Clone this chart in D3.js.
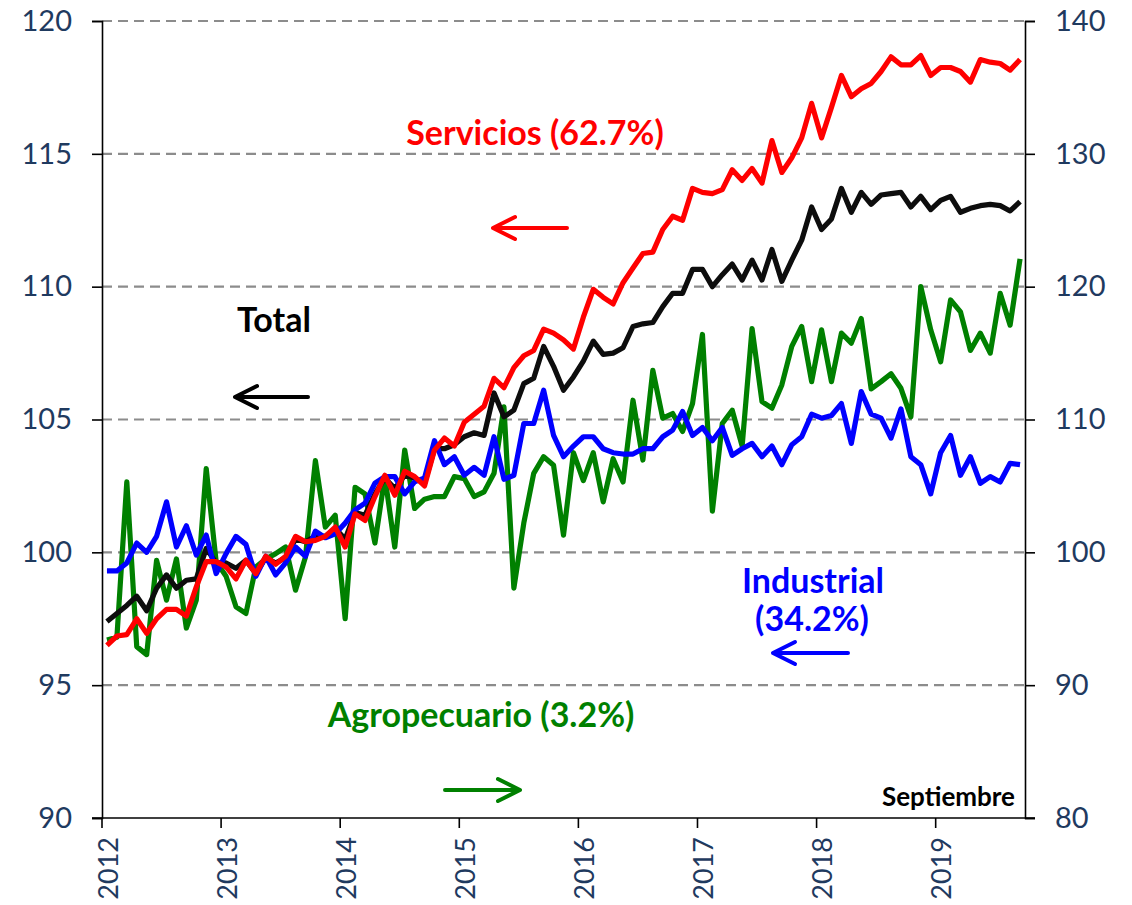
<!DOCTYPE html>
<html lang="es">
<head>
    <meta charset="UTF-8">
    <title>Índices por sector</title>
    <script src="https://d3js.org/d3.v7.min.js"></script>
    <style>
        body { margin: 0; background: #fff; }
        svg { display: block; font-family: Lato, "Open Sans", sans-serif; }
        .tick-label { font-size: 29px; fill: #1f3a5f; }
        .note { font-weight: bold; font-size: 34px; }
    </style>
</head>
<body>
    <svg id="chart"></svg>
    <script>
        // monthly categories Jan 2012 .. Sep 2019
        const years = [2012, 2013, 2014, 2015, 2016, 2017, 2018, 2019];
        const months = d3.timeMonth.range(new Date(2012, 0, 1), new Date(2019, 9, 1));

        const total = [97.4, 97.7, 98.0, 98.35, 97.8, 98.65, 99.15, 98.65, 98.95, 99.0, 100.15, 99.6,
            99.6, 99.4, 99.7, 99.2, 99.8, 99.6, 99.8, 100.5, 100.4, 100.6, 100.6, 100.9,
            100.5, 101.5, 101.4, 102.2, 102.8, 102.4, 102.9, 102.8, 102.6, 103.9, 103.9, 104.05,
            104.35, 104.5, 104.4, 106.0, 105.1, 105.35, 106.35, 106.55, 107.75, 107.0, 106.1, 106.6,
            107.2, 107.95, 107.45, 107.5, 107.7, 108.5, 108.6, 108.65, 109.25, 109.75, 109.75, 110.65,
            110.65, 110.0, 110.45, 110.85, 110.25, 111.0, 110.25, 111.4, 110.2, 111.0, 111.75, 113.0,
            112.15, 112.55, 113.7, 112.8, 113.55, 113.1, 113.45, 113.5, 113.55, 113.0, 113.4, 112.9,
            113.25, 113.4, 112.8, 112.95, 113.05, 113.1, 113.05, 112.85, 113.2];

        const servicios = [96.5, 96.85, 96.9, 97.5, 96.95, 97.5, 97.85, 97.85, 97.6, 98.7, 99.65, 99.65,
            99.45, 99.0, 99.7, 99.2, 99.85, 99.55, 99.85, 100.6, 100.4, 100.45, 100.6, 100.95,
            100.2, 101.45, 101.2, 102.1, 102.9, 102.15, 103.05, 102.85, 102.5, 103.85, 104.3, 104.0,
            104.9, 105.2, 105.5, 106.55, 106.2, 106.95, 107.4, 107.6, 108.4, 108.25, 108.0, 107.65,
            108.85, 109.9, 109.6, 109.35, 110.15, 110.7, 111.25, 111.3, 112.15, 112.65, 112.5, 113.7,
            113.55, 113.5, 113.65, 114.4, 114.0, 114.45, 113.9, 115.5, 114.3, 114.85, 115.6, 116.9,
            115.6, 116.75, 117.95, 117.15, 117.45, 117.65, 118.1, 118.65, 118.35, 118.35, 118.7, 117.95,
            118.25, 118.25, 118.1, 117.7, 118.55, 118.45, 118.4, 118.15, 118.55];

        const industrial = [99.3, 99.3, 99.6, 100.35, 100.0, 100.6, 101.9, 100.2, 101.0, 99.9, 100.65, 99.2,
            99.95, 100.6, 100.3, 99.1, 99.85, 99.15, 99.6, 100.2, 99.85, 100.8, 100.55, 100.7,
            101.1, 101.6, 101.85, 102.6, 102.85, 102.85, 102.2, 102.65, 102.8, 104.2, 103.3, 103.6,
            102.9, 103.2, 102.9, 104.35, 102.75, 102.9, 104.85, 104.85, 106.1, 104.4, 103.6, 104.0,
            104.35, 104.35, 103.9, 103.75, 103.7, 103.7, 103.9, 103.9, 104.35, 104.6, 105.3, 104.4,
            104.7, 104.2, 104.7, 103.65, 103.9, 104.1, 103.6, 104.0, 103.3, 104.05, 104.35, 105.2,
            105.05, 105.15, 105.6, 104.1, 106.05, 105.2, 105.05, 104.3, 105.4, 103.6, 103.3, 102.2,
            103.75, 104.4, 102.9, 103.6, 102.6, 102.85, 102.65, 103.35, 103.3];

        // right axis
        const agropecuario = [93.4, 93.6, 105.3, 92.9, 92.3, 99.4, 96.4, 99.5, 94.3, 96.4, 106.3, 99.3,
            98.2, 95.9, 95.4, 98.9, 99.5, 99.9, 100.4, 97.15, 99.65, 106.9, 101.9, 102.8,
            95.0, 104.9, 104.4, 100.7, 105.7, 100.4, 107.7, 103.3, 104.0, 104.2, 104.2, 105.7,
            105.55, 104.2, 104.55, 105.95, 110.95, 97.3, 102.2, 105.95, 107.2, 106.55, 101.3, 107.5,
            105.4, 107.5, 103.8, 107.05, 105.3, 111.45, 106.95, 113.7, 110.1, 110.45, 109.1, 111.2,
            116.4, 103.1, 109.7, 110.7, 108.0, 116.85, 111.35, 110.85, 112.6, 115.5, 117.0, 112.85,
            116.75, 112.85, 116.5, 115.75, 117.6, 112.3, 112.85, 113.45, 112.35, 110.2, 120.0, 116.75,
            114.35, 119.0, 118.1, 115.2, 116.5, 115.0, 119.5, 117.1, 122.1];

        const leftTicks = [90, 95, 100, 105, 110, 115, 120];
        const rightTicks = [80, 90, 100, 110, 120, 130, 140];

        const width = 1132, height = 905;
        const margin = { left: 102, right: 1025, top: 21, bottom: 818 };

        const svg = d3.select("#chart")
            .attr("width", width)
            .attr("height", height);

        const x = d3.scaleBand()
            .domain(months)
            .range([margin.left, margin.right])
            .paddingInner(0)
            .paddingOuter(0);
        const yL = d3.scaleLinear().domain([90, 120]).range([margin.bottom, margin.top]);
        const yR = d3.scaleLinear().domain([80, 140]).range([margin.bottom, margin.top]);
        const cx = i => x(months[i]) + x.bandwidth() / 2;

        // dashed gridlines
        svg.append("g")
            .selectAll("line")
            .data(leftTicks.filter(v => v > 90))
            .join("line")
            .attr("x1", margin.left).attr("x2", margin.right)
            .attr("y1", d => yL(d)).attr("y2", d => yL(d))
            .attr("stroke", "#8c8c8c")
            .attr("stroke-width", 2.2)
            .attr("stroke-dasharray", "10,6");

        // axes
        const axL = svg.append("g")
            .attr("transform", `translate(${margin.left},0)`)
            .call(d3.axisLeft(yL).tickValues(leftTicks).tickSize(10).tickPadding(20));
        const axR = svg.append("g")
            .attr("transform", `translate(${margin.right},0)`)
            .call(d3.axisRight(yR).tickValues(rightTicks).tickSize(10).tickPadding(20));
        const axB = svg.append("g")
            .attr("transform", `translate(0,${margin.bottom})`)
            .call(d3.axisBottom(x)
                .tickValues(months.filter(m => m.getMonth() === 0))
                .tickSize(10)
                .tickFormat(d3.timeFormat("%Y")));

        [axL, axR, axB].forEach(a => {
            a.attr("font-family", null).attr("font-size", null);
            a.select(".domain").attr("stroke", "#000").attr("stroke-width", 1.6);
            a.selectAll(".tick line").attr("stroke", "#000").attr("stroke-width", 1.6);
            a.selectAll("text").attr("class", "tick-label").attr("fill", null);
        });
        // the band axis puts ticks at band centres; move them to band starts
        axB.selectAll(".tick")
            .attr("transform", d => `translate(${x(d)},0)`);
        axB.selectAll(".tick text")
            .attr("transform", `translate(${x.bandwidth() / 2 + 1},19) rotate(-90)`)
            .attr("x", 0).attr("y", 0)
            .attr("dy", "0.36em")
            .style("font-size", "27px")
            .style("text-anchor", "end");
        axB.select(".domain").attr("d", `M${margin.left - 10},0H${margin.right + 10}`);

        // series lines
        const lineL = d3.line().x((d, i) => cx(i)).y(d => yL(d));
        const lineR = d3.line().x((d, i) => cx(i)).y(d => yR(d));
        const series = [
            { values: agropecuario, line: lineR, color: "#008000" },
            { values: total, line: lineL, color: "#0d0d0d" },
            { values: industrial, line: lineL, color: "#0000ff" },
            { values: servicios, line: lineL, color: "#ff0000" }
        ];
        svg.append("g")
            .selectAll("path")
            .data(series)
            .join("path")
            .attr("d", d => d.line(d.values))
            .attr("fill", "none")
            .attr("stroke", d => d.color)
            .attr("stroke-width", 5.2)
            .attr("stroke-linejoin", "round");

        // labels
        const notes = [
            { text: "Servicios (62.7%)", x: 535, y: 145, color: "#ff0000" },
            { text: "Total", x: 274, y: 332, color: "#000" },
            { text: "Industrial", x: 813, y: 593, color: "#0000ff" },
            { text: "(34.2%)", x: 812, y: 631, color: "#0000ff" },
            { text: "Agropecuario (3.2%)", x: 481, y: 727, color: "#008000" }
        ];
        svg.append("g")
            .selectAll("text")
            .data(notes)
            .join("text")
            .attr("class", "note")
            .attr("x", d => d.x).attr("y", d => d.y)
            .attr("text-anchor", "middle")
            .attr("fill", d => d.color)
            .text(d => d.text);

        svg.append("text")
            .attr("x", 1015).attr("y", 806)
            .attr("text-anchor", "end")
            .attr("font-weight", "bold")
            .attr("font-size", 26)
            .text("Septiembre");

        // arrows showing which axis each series uses
        const arrows = [
            { x1: 567, x2: 493, y: 228, color: "#ff0000" },
            { x1: 308, x2: 235, y: 397, color: "#000" },
            { x1: 848, x2: 773, y: 653, color: "#0000ff" },
            { x1: 445, x2: 520, y: 790, color: "#008000" }
        ];
        svg.append("g")
            .selectAll("path")
            .data(arrows)
            .join("path")
            .attr("d", d => {
                const s = Math.sign(d.x1 - d.x2) * 22;
                return `M${d.x1},${d.y}H${d.x2}M${d.x2 + s},${d.y - 11}L${d.x2},${d.y}L${d.x2 + s},${d.y + 11}`;
            })
            .attr("fill", "none")
            .attr("stroke", d => d.color)
            .attr("stroke-width", 4)
            .attr("stroke-linecap", "round")
            .attr("stroke-linejoin", "round");
    </script>
</body>
</html>
